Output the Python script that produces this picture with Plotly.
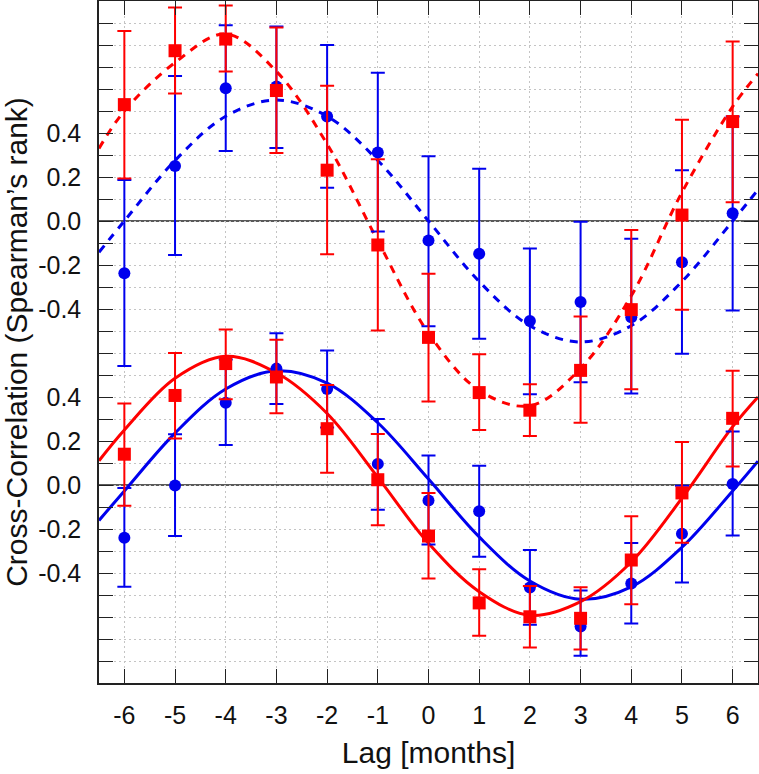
import numpy as np
import plotly.graph_objects as go

# ---------------- data ----------------
LAGS = [-6, -5, -4, -3, -2, -1, 0, 1, 2, 3, 4, 5, 6]

# upper panel (dashed fits) – plotted with an offset of +1.2
top_red_val = [0.529, 0.774, 0.827, 0.593, 0.231, -0.109, -0.529, -0.780, -0.860, -0.679, -0.403, 0.027, 0.452]
top_red_hi = [0.864, 0.970, 0.979, 0.879, 0.615, 0.281, -0.240, -0.606, -0.742, -0.434, -0.041, 0.460, 0.816]
top_red_lo = [0.193, 0.580, 0.679, 0.309, -0.151, -0.498, -0.820, -0.950, -0.977, -0.917, -0.765, -0.403, 0.085]

top_blue_val = [-0.237, 0.250, 0.603, 0.611, 0.475, 0.311, -0.089, -0.149, -0.455, -0.368, -0.437, -0.187, 0.035]
top_blue_hi = [0.186, 0.659, 0.890, 0.884, 0.800, 0.674, 0.294, 0.238, -0.125, -0.003, -0.081, 0.231, 0.475]
top_blue_lo = [-0.659, -0.154, 0.318, 0.332, 0.151, -0.048, -0.478, -0.535, -0.787, -0.733, -0.784, -0.603, -0.407]

# lower panel (solid fits)
bot_red_val = [0.140, 0.407, 0.552, 0.491, 0.256, 0.024, -0.232, -0.536, -0.599, -0.606, -0.341, -0.036, 0.303]
bot_red_hi = [0.371, 0.600, 0.707, 0.660, 0.454, 0.232, -0.036, -0.383, -0.459, -0.465, -0.142, 0.195, 0.519]
bot_red_lo = [-0.094, 0.211, 0.390, 0.326, 0.056, -0.183, -0.425, -0.685, -0.739, -0.748, -0.542, -0.262, 0.084]

bot_blue_val = [-0.240, -0.002, 0.374, 0.529, 0.436, 0.096, -0.070, -0.119, -0.466, -0.643, -0.448, -0.222, 0.005]
bot_blue_hi = [-0.014, 0.231, 0.570, 0.690, 0.611, 0.300, 0.134, 0.087, -0.296, -0.480, -0.264, -0.003, 0.243]
bot_blue_lo = [-0.463, -0.232, 0.182, 0.368, 0.261, -0.112, -0.270, -0.326, -0.635, -0.776, -0.629, -0.443, -0.229]

# fitted curves, read at these lags
CURVE_X = [-6.5, -6, -5, -4, -3, -2, -1, 0, 1, 2, 3, 4, 5, 6, 6.5]
fit_top_red = [0.33, 0.50, 0.72, 0.85, 0.68, 0.35, -0.09, -0.51, -0.77, -0.84, -0.67, -0.34, 0.13, 0.52, 0.67]
fit_top_blue = [-0.142, 0.0, 0.275, 0.476, 0.55, 0.476, 0.275, 0.0, -0.275, -0.476, -0.55, -0.476, -0.275, 0.0, 0.142]
fit_bot_red = [0.11, 0.25, 0.485, 0.585, 0.51, 0.325, 0.035, -0.265, -0.485, -0.592, -0.53, -0.35, -0.06, 0.265, 0.40]
fit_bot_blue = [-0.161, -0.027, 0.236, 0.436, 0.519, 0.463, 0.283, 0.027, -0.236, -0.436, -0.519, -0.463, -0.283, -0.027, 0.108]

Y_LABELS = ["-0.4", "-0.2", "0.0", "0.2", "0.4"]
X_LABELS = ["-6", "-5", "-4", "-3", "-2", "-1", "0", "1", "2", "3", "4", "5", "6"]

# ---------------- styling ----------------
TOP_OFFSET = 1.2
RED = "#ff0000"
BLUE = "#0000ee"
FONT = "Liberation Sans, Arial, Helvetica, sans-serif"


def shift(vals, off):
    return [v + off for v in vals]


def err(val, hi, lo):
    plus = [h - v for h, v in zip(hi, val)]
    minus = [v - l for v, l in zip(val, lo)]
    return plus, minus


fig = go.Figure()

# fit curves
for ys, col, off, dash in [
    (fit_top_blue, BLUE, TOP_OFFSET, "8px,7px"),
    (fit_top_red, RED, TOP_OFFSET, "8px,7px"),
    (fit_bot_blue, BLUE, 0.0, "solid"),
    (fit_bot_red, RED, 0.0, "solid"),
]:
    fig.add_trace(go.Scatter(
        x=CURVE_X, y=shift(ys, off), mode="lines",
        line=dict(color=col, width=3, dash=dash, shape="spline", smoothing=1.0),
        hoverinfo="skip", showlegend=False,
    ))

# data points with error bars
for val, hi, lo, col, off, sym, size in [
    (top_blue_val, top_blue_hi, top_blue_lo, BLUE, TOP_OFFSET, "circle", 12),
    (bot_blue_val, bot_blue_hi, bot_blue_lo, BLUE, 0.0, "circle", 12),
    (top_red_val, top_red_hi, top_red_lo, RED, TOP_OFFSET, "square", 13),
    (bot_red_val, bot_red_hi, bot_red_lo, RED, 0.0, "square", 13),
]:
    plus, minus = err(val, hi, lo)
    fig.add_trace(go.Scatter(
        x=LAGS, y=shift(val, off), mode="markers",
        marker=dict(color=col, size=size, symbol=sym, line=dict(width=0)),
        error_y=dict(type="data", symmetric=False, array=plus, arrayminus=minus,
                     color=col, thickness=2, width=7),
        showlegend=False,
    ))

# zero reference lines for both panels
for y0 in (0.0, TOP_OFFSET):
    fig.add_shape(type="line", xref="paper", x0=0, x1=1, yref="y", y0=y0, y1=y0,
                  line=dict(color="#5a5a5a", width=1.8), layer="below")

# y ticks every 0.1, labels only for the two groups
ytickvals = [round(v, 2) for v in np.arange(-0.9, 2.2001, 0.1)]
label_pos = {}
for t in Y_LABELS:
    v = float(t)
    label_pos[round(v, 2)] = t
    label_pos[round(v + TOP_OFFSET, 2)] = t
yticktext = [label_pos.get(v, "") for v in ytickvals]

fig.update_layout(
    width=759, height=774,
    margin=dict(l=99, r=1, t=1, b=91),
    paper_bgcolor="white", plot_bgcolor="white",
    font=dict(family=FONT, size=25, color="#111111"),
    xaxis=dict(
        range=[-6.5, 6.5], tickvals=LAGS, ticktext=X_LABELS,
        ticks="inside", ticklen=14, tickwidth=1.2, tickcolor="#222222",
        showline=True, linecolor="#222222", linewidth=1.5, mirror="ticks",
        showgrid=True, gridcolor="#c4c4c4", griddash="2px,3px", gridwidth=1,
        zeroline=False, ticklabelstandoff=9, automargin=False,
        title=dict(text="Lag [months]", font=dict(size=30), standoff=14),
    ),
    yaxis=dict(
        range=[-0.9, 2.2], tickvals=ytickvals, ticktext=yticktext,
        ticks="inside", ticklen=14, tickwidth=1.2, tickcolor="#222222",
        showline=True, linecolor="#222222", linewidth=1.5, mirror="ticks",
        showgrid=True, gridcolor="#c4c4c4", griddash="2px,3px", gridwidth=1,
        zeroline=False, ticklabelstandoff=11, automargin=False,
        title=dict(text="Cross-Correlation (Spearman’s rank)", font=dict(size=30), standoff=5),
    ),
)

fig.write_html(
    "out.html",
    config={"displayModeBar": False},
    post_script="document.body.style.margin='0';document.body.style.overflow='hidden';",
)
